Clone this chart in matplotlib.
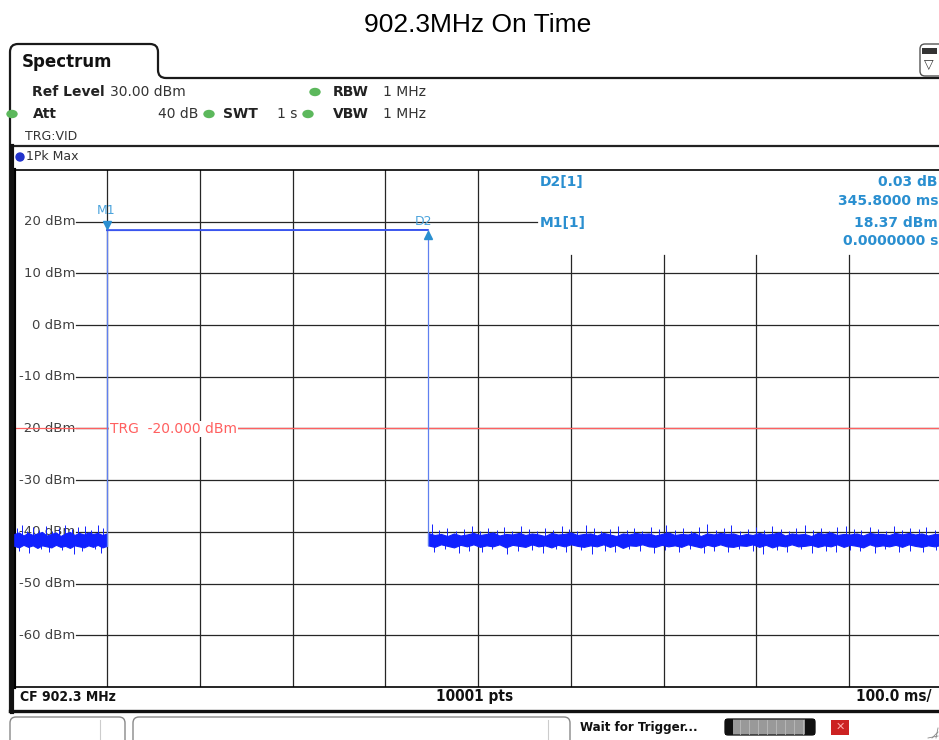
import numpy as np
import matplotlib
matplotlib.use("Agg")
from matplotlib import pyplot as plt
from matplotlib.patches import FancyBboxPatch, Ellipse, Rectangle, PathPatch
from matplotlib.path import Path

# ---- instrument settings / readout ----
title = "902.3MHz On Time"
ref_level = 30.00      # dBm
att_db = 40
swt_s = 1
rbw = "1 MHz"
vbw = "1 MHz"
trg_level = -20.000    # dBm
center_freq = "902.3 MHz"
n_points = 10001
time_per_div = 100.0   # ms
y_levels = [20, 10, 0, -10, -20, -30, -40, -50, -60]

# markers
m1_time_ms = 0.0
m1_level = 18.37
d2_delta_ms = 345.8
d2_delta_db = 0.03

# noise floor envelope (dBm)
t_left = np.arange(-100, 1, 5)
hi_left = [-40.4, -40.1, -40.7, -40.2, -40.6, -40.3, -40.0, -40.7, -40.4, -40.1, -40.8,
           -40.3, -40.0, -40.6, -40.2, -40.5, -40.1, -40.4, -40.2, -40.6, -40.3]
lo_left = [-42.7, -43.0, -42.5, -42.9, -42.6, -43.1, -42.6, -42.8, -43.0, -42.5, -42.9,
           -42.7, -43.1, -42.6, -42.8, -43.0, -42.6, -42.9, -42.5, -43.0, -42.7]

t_right = np.arange(346, 900, 7)
hi_right = [-40.2, -40.6, -40.4, -40.8, -40.3, -40.7, -40.5, -40.2, -40.6, -40.4,
            -40.1, -40.7, -40.4, -40.5, -40.2, -40.6, -40.3, -40.5, -40.8, -40.2,
            -40.5, -40.4, -40.1, -40.6, -40.4, -40.3, -40.7, -40.2, -40.5, -40.8,
            -40.3, -40.5, -40.2, -40.4, -40.3, -40.7, -40.4, -40.1, -40.6, -40.4,
            -40.5, -40.2, -40.8, -40.3, -40.5, -40.2, -40.4, -40.3, -40.7, -40.4,
            -40.6, -40.2, -40.5, -40.4, -40.1, -40.7, -40.3, -40.5, -40.4, -40.8,
            -40.2, -40.4, -40.1, -40.6, -40.4, -40.5, -40.3, -40.7, -40.2, -40.4,
            -40.4, -40.6, -40.2, -40.5, -40.2, -40.5, -40.3, -40.7, -40.4, -40.4]
lo_right = [-42.6, -42.9, -42.4, -42.7, -43.0, -42.5, -42.8, -42.4, -42.9, -42.6,
            -42.8, -42.4, -43.0, -42.5, -42.7, -42.9, -42.4, -42.8, -42.6, -43.0,
            -42.5, -42.8, -42.4, -42.7, -42.9, -42.6, -42.8, -42.4, -42.9, -42.5,
            -43.1, -42.6, -42.7, -42.4, -42.8, -42.9, -42.5, -42.8, -42.6, -42.9,
            -42.4, -42.7, -43.0, -42.5, -42.8, -42.4, -42.8, -42.9, -42.6, -42.7,
            -42.4, -42.9, -42.5, -43.0, -42.6, -42.8, -42.4, -42.8, -42.7, -42.5,
            -42.9, -42.6, -42.8, -42.4, -42.9, -42.5, -42.7, -43.0, -42.4, -42.8,
            -42.6, -42.8, -42.5, -42.9, -42.4, -42.7, -42.9, -42.6, -42.8, -42.5]

# single-sample spikes above / below the floor
spike_up_t = [-97, -92, -86, -80, -73, -66, -59, -52, -45, -38, -31, -24, -17, -10, -4,
              350, 358, 367, 376, 385, 393, 402, 411, 420, 428, 437, 446, 455, 463, 472,
              481, 490, 498, 507, 516, 525, 533, 542, 551, 560, 568, 577, 586, 595, 603,
              612, 621, 630, 638, 647, 656, 665, 673, 682, 691, 700, 708, 717, 726, 735,
              743, 752, 761, 770, 778, 787, 796, 805, 813, 822, 831, 840, 848, 857, 866,
              875, 883, 892]
spike_up_v = [-39.3, -38.6, -39.8, -39.0, -39.6, -38.8, -39.9, -39.2, -38.7, -39.5, -39.1,
              -38.9, -39.7, -38.6, -39.3,
              -38.4, -39.7, -39.2, -39.8, -39.4, -38.9, -39.9, -39.3, -39.6, -39.1,
              -39.8, -38.8, -39.5, -39.9, -39.2, -39.7, -38.9, -39.4, -39.8, -38.6,
              -39.3, -39.9, -39.5, -38.8, -39.6, -39.2, -39.8, -39.0, -39.5, -38.6,
              -39.7, -39.3, -39.9, -39.1, -38.4, -39.6, -39.2, -38.7, -39.8, -39.4,
              -39.1, -39.7, -38.9, -39.5, -39.8, -39.2, -38.6, -39.6, -39.3, -39.9,
              -39.0, -38.8, -39.5, -39.7, -39.1, -39.4, -39.8, -38.9, -39.6, -39.2,
              -39.5, -39.0, -39.7]
spike_dn_t = [-95, -84, -71, -62, -49, -36, -27, -13, -6,
              353, 364, 379, 390, 404, 415, 431, 443, 458, 470, 484, 495, 511, 523,
              537, 548, 563, 575, 590, 601, 616, 628, 643, 654, 669, 681, 696, 707,
              722, 733, 748, 760, 775, 786, 801, 812, 828, 839, 854, 865, 880, 894]
spike_dn_v = [-43.6, -44.1, -43.4, -43.9, -43.5, -44.2, -43.7, -43.4, -44.0,
              -43.8, -43.4, -44.1, -43.6, -43.9, -43.3, -44.3, -43.7, -43.5, -44.0,
              -43.4, -43.8, -43.5, -44.2, -43.6, -43.9, -43.4, -43.7, -44.1, -43.5,
              -43.8, -43.3, -44.0, -43.6, -43.9, -43.4, -43.7, -44.2, -43.5, -43.8,
              -43.4, -44.0, -43.6, -43.9, -43.5, -43.7, -44.1, -43.4, -43.8, -43.6,
              -43.9, -43.5]

W, H = 939, 740
fig = plt.figure(figsize=(W / 100, H / 100), dpi=100)
fig.patch.set_facecolor("white")

noise_c = "#1020ff"
pulse_c = "#3a55ee"
mark_c = "#2a8fd0"
trg_c = "#ff6060"
grid_c = "#262626"
label_c = "#404040"

# ---- plot area ----
px_l, px_r, px_t, px_b = 14.2, 942, 170, 687
ax = fig.add_axes([px_l / W, 1 - px_b / H, (px_r - px_l) / W, (px_b - px_t) / H], zorder=1)
ax.set_xlim(-100, 900)
ax.set_ylim(-70, 30)
ax.set_xticks([])
ax.set_yticks([])
ax.spines["right"].set_visible(False)
ax.spines["top"].set_linewidth(1.2)
ax.spines["bottom"].set_linewidth(1.2)
ax.spines["left"].set_linewidth(3)

label_x = -34
table_bottom = 13.5
for i in range(1, 10):
    t = -100 + i * time_per_div
    top = 30 if t <= 400 else table_bottom
    ax.plot([t, t], [-70, top], color=grid_c, lw=0.9, zorder=1)
for lv in y_levels:
    right = 464 if lv == 20 else 900
    ax.plot([label_x + 1, right], [lv, lv], color=grid_c, lw=0.9, zorder=1)
    ax.text(label_x, lv, f"{lv} dBm", ha="right", va="center", fontsize=9.5,
            color=label_c, zorder=0.5)

# trigger line
ax.axhline(trg_level, color=trg_c, lw=0.9, zorder=2)

# trace
ax.fill_between(t_left, lo_left, hi_left, color=noise_c, lw=0.8, zorder=3)
ax.fill_between(t_right, lo_right, hi_right, color=noise_c, lw=0.8, zorder=3)
ax.vlines(spike_up_t, -41.0, spike_up_v, color=noise_c, lw=0.7, zorder=3)
ax.vlines(spike_dn_t, -42.2, spike_dn_v, color=noise_c, lw=0.7, zorder=3)
d2_time = m1_time_ms + d2_delta_ms
d2_level = m1_level + d2_delta_db
ax.plot([m1_time_ms, m1_time_ms], [lo_left[-1], m1_level], color="#6080f0", lw=0.9, zorder=3)
ax.plot([m1_time_ms, d2_time], [m1_level, d2_level], color=pulse_c, lw=1.4, zorder=3)
ax.plot([d2_time, d2_time], [d2_level, lo_right[0]], color="#6080f0", lw=0.9, zorder=3)

# markers
ax.plot(m1_time_ms, m1_level + 0.9, marker="v", ms=6, color=mark_c, zorder=4)
ax.plot(d2_time, d2_level - 0.9, marker="^", ms=6, color=mark_c, zorder=4)
ax.text(m1_time_ms - 1, m1_level + 2.5, "M1", ha="center", va="bottom", fontsize=9, color="#4aa3dc")
ax.text(d2_time - 5, d2_level + 0.4, "D2", ha="center", va="bottom", fontsize=9, color="#4aa3dc")

# ---- screen chrome in pixel coordinates ----
ov = fig.add_axes([0, 0, 1, 1], zorder=5)
ov.set_xlim(0, W)
ov.set_ylim(H, 0)
ov.axis("off")

fig.text(478 / W, 1 - 25 / H, title, ha="center", va="center", fontsize=19,
         family="Liberation Sans")

# tab outline
verts = [(10, 713), (10, 52), (10, 44), (18, 44), (150, 44), (158, 44), (158, 52),
         (158, 70), (158, 78), (166, 78), (945, 78)]
codes = [Path.MOVETO, Path.LINETO, Path.CURVE3, Path.CURVE3, Path.LINETO, Path.CURVE3,
         Path.CURVE3, Path.LINETO, Path.CURVE3, Path.CURVE3, Path.LINETO]
ov.add_patch(PathPatch(Path(verts, codes), fill=False, lw=1.6, ec="#1a1a1a"))
ov.text(22, 62, "Spectrum", fontsize=12, fontweight="bold", va="center", color="#111")
ov.plot([12, 945], [146, 146], color="#222", lw=1.6)
ov.plot([11.5, 11.5], [146, 712], color="#111", lw=3)

# right icon
ov.add_patch(FancyBboxPatch((920, 44), 30, 32, boxstyle="round,pad=0,rounding_size=5",
                            fc="white", ec="#555", lw=1))
ov.add_patch(Rectangle((922, 48), 15, 6, fc="#333", ec="none"))
ov.text(929, 65, "\u25bd", ha="center", va="center", fontsize=9, color="#333")

green = "#5cb85c"
for x, y in [(315, 92), (12, 114), (209, 114), (308, 114)]:
    ov.add_patch(Ellipse((x, y), 10, 7, color=green))

hdr = 10
ov.text(32, 92, "Ref Level", fontsize=hdr, fontweight="bold", va="center", color="#222")
ov.text(110, 92, f"{ref_level:.2f} dBm", fontsize=hdr, va="center", color="#333")
ov.text(333, 92, "RBW", fontsize=hdr, fontweight="bold", va="center", color="#222")
ov.text(383, 92, rbw, fontsize=hdr, va="center", color="#333")
ov.text(33, 114, "Att", fontsize=hdr, fontweight="bold", va="center", color="#222")
ov.text(198, 114, f"{att_db} dB", fontsize=hdr, va="center", ha="right", color="#333")
ov.text(223, 114, "SWT", fontsize=hdr, fontweight="bold", va="center", color="#222")
ov.text(277, 114, f"{swt_s} s", fontsize=hdr, va="center", color="#333")
ov.text(333, 114, "VBW", fontsize=hdr, fontweight="bold", va="center", color="#222")
ov.text(383, 114, vbw, fontsize=hdr, va="center", color="#333")
ov.text(25, 137, "TRG:VID", fontsize=9, va="center", color="#333")

ov.add_patch(Ellipse((20, 157), 8, 8, color="#2233cc"))
ov.text(26, 157, "1Pk Max", fontsize=9, va="center", color="#333")

# trigger label
ov.text(110, 429, f"TRG  {trg_level:.3f} dBm", fontsize=10, va="center", color=trg_c,
        bbox=dict(fc="white", ec="none", pad=0.5))

# marker table
tab_c = "#2a8fd0"
rows = [("D2[1]", f"{d2_delta_db:.2f} dB", 182), (None, f"{d2_delta_ms:.4f} ms", 201),
        ("M1[1]", f"{m1_level:.2f} dBm", 223), (None, f"{m1_time_ms / 1000:.7f} s", 241)]
for name, val, y in rows:
    if name:
        ov.text(540, y, name, fontsize=10, fontweight="bold", va="center", color=tab_c,
                bbox=dict(fc="white", ec="none", pad=0.5))
    ov.text(938, y, val, fontsize=10, fontweight="bold", va="center", ha="right", color=tab_c)

# footer
ftr = 10
ov.text(20, 697, f"CF {center_freq}", fontsize=ftr, fontweight="bold", va="center",
        fontstretch="condensed", color="#111")
ov.text(475, 697, f"{n_points} pts", fontsize=ftr + 1, fontweight="bold", va="center",
        ha="center", fontstretch="condensed", color="#111")
ov.text(931, 697, f"{time_per_div:.1f} ms/", fontsize=ftr + 1, fontweight="bold", va="center",
        ha="right", fontstretch="condensed", color="#111")
ov.plot([10, 945], [711, 711], color="#111", lw=2.4)

# status bar
ov.add_patch(FancyBboxPatch((10, 717), 115, 30, boxstyle="round,pad=0,rounding_size=6",
                            fc="white", ec="#888", lw=1))
ov.plot([100, 100], [720, 740], color="#ccc", lw=0.8)
ov.add_patch(FancyBboxPatch((133, 717), 437, 30, boxstyle="round,pad=0,rounding_size=6",
                            fc="white", ec="#888", lw=1))
ov.plot([548, 548], [720, 740], color="#ccc", lw=0.8)
ov.text(580, 727, "Wait for Trigger...", fontsize=9.5, fontweight="bold", va="center",
        fontstretch="condensed", color="#111")
ov.add_patch(FancyBboxPatch((725, 719), 90, 16, boxstyle="round,pad=0,rounding_size=3",
                            fc="#999", ec="#222", lw=1))
ov.add_patch(Rectangle((725, 719), 8, 16, fc="#111", ec="none"))
ov.add_patch(Rectangle((805, 719), 10, 16, fc="#111", ec="none"))
for x in range(740, 805, 9):
    ov.plot([x, x], [720, 734], color="#bbb", lw=0.6)
ov.add_patch(Rectangle((831, 720), 18, 15, fc="#cc2222", ec="none"))
ov.text(840, 727, "\u2715", ha="center", va="center", fontsize=8, color="#ffaaaa")
for k in range(3):
    ov.plot([928 + 4 * k, 938], [738, 728 - 4 * k + 8], color="#888", lw=0.6)

fig.savefig("out.png", dpi=100)
